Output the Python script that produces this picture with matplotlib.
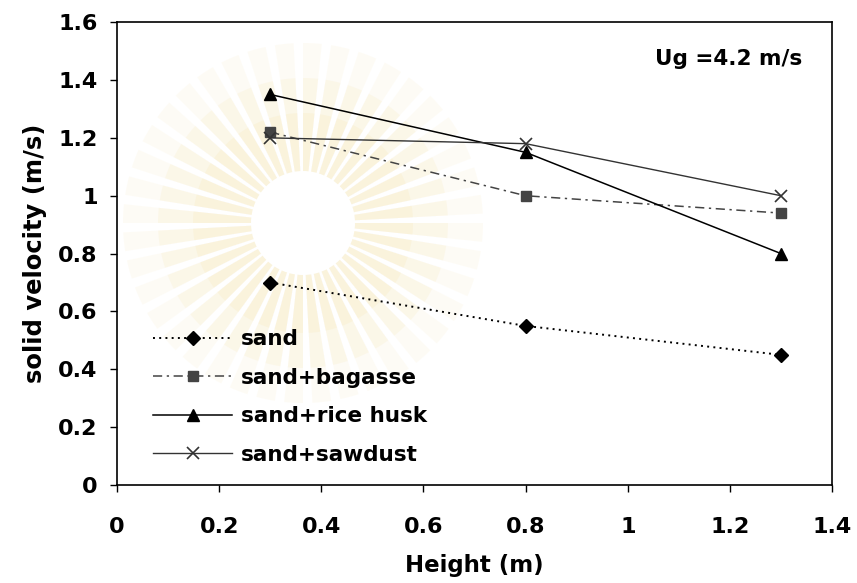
import numpy as np
import matplotlib.pyplot as plt
from matplotlib.patches import Wedge, Circle

# solid velocity along the riser for each bed material
height = [0.3, 0.8, 1.3]
sand = [0.70, 0.55, 0.45]
sand_bagasse = [1.22, 1.00, 0.94]
sand_rice_husk = [1.35, 1.15, 0.80]
sand_sawdust = [1.20, 1.18, 1.00]

labels = ['sand', 'sand+bagasse', 'sand+rice husk', 'sand+sawdust']

plt.rcParams['font.family'] = ['DejaVu Sans']
plt.rcParams['font.weight'] = 'bold'

fig = plt.figure(figsize=(8.57, 5.83), dpi=100)

# faint starburst seal behind the plot
bg = fig.add_axes([0, 0, 1, 1], zorder=0)
bg.set_xlim(0, 857)
bg.set_ylim(583, 0)
bg.axis('off')
cx, cy = 303, 223
n_rays = 40
for k in range(n_rays):
    a0 = k * 360 / n_rays
    for r_out, a in [(180, 0.15), (145, 0.22), (110, 0.28)]:
        bg.add_patch(Wedge((cx, cy), r_out, a0, a0 + 6, width=r_out - 50,
                           color='#f8e9bd', alpha=a, lw=0))
bg.add_patch(Circle((cx, cy), 52, color='white', lw=0))

ax = fig.add_axes([0.1365, 0.168, 0.8345, 0.794], zorder=1)
ax.patch.set_alpha(0)

ax.plot(height, sand, color='black', linestyle=(0, (1, 2.2)), lw=1.4,
        marker='D', markersize=7, label=labels[0])
ax.plot(height, sand_bagasse, color='#444444', linestyle=(0, (6, 3, 1.5, 3)),
        lw=1.1, marker='s', markersize=7, label=labels[1])
ax.plot(height, sand_rice_husk, color='black', linestyle='-', lw=1.1,
        marker='^', markersize=8, label=labels[2])
ax.plot(height, sand_sawdust, color='#333333', linestyle='-', lw=1.0,
        marker='x', markersize=9, markeredgewidth=1.2, label=labels[3])

ax.set_xlim(0, 1.4)
ax.set_ylim(0, 1.6)
ax.set_xticks(np.arange(0, 1.41, 0.2))
ax.set_yticks(np.arange(0, 1.61, 0.2))
ax.set_xticklabels(['0', '0.2', '0.4', '0.6', '0.8', '1', '1.2', '1.4'])
ax.set_yticklabels(['0', '0.2', '0.4', '0.6', '0.8', '1', '1.2', '1.4', '1.6'])
ax.tick_params(labelsize=16, length=5, width=1)
ax.tick_params(axis='x', pad=18)
ax.tick_params(axis='y', pad=9)
for sp in ax.spines.values():
    sp.set_linewidth(1.2)

ax.set_xlabel('Height (m)', fontsize=16.5, fontweight='bold', labelpad=12)
ax.set_ylabel('solid velocity (m/s)', fontsize=17.5, fontweight='bold', labelpad=8)

ax.text(0.958, 0.92, 'Ug =4.2 m/s', transform=ax.transAxes, ha='right',
        va='center', fontsize=15.5, fontweight='bold')

ax.legend(loc='lower left', bbox_to_anchor=(0.038, 0.025), frameon=False,
          fontsize=15.5, handlelength=3.7, handletextpad=0.4,
          labelspacing=0.86, borderaxespad=0)

fig.savefig('out.png', dpi=100)
